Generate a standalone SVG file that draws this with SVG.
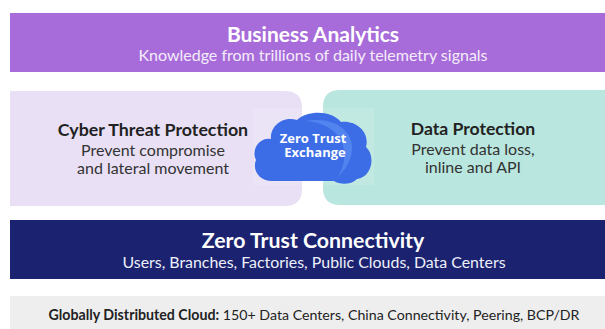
<svg xmlns="http://www.w3.org/2000/svg" width="605" height="329" viewBox="0 0 605 329">
<style>
text{font-family:Lato,"Open Sans","Liberation Sans",sans-serif;text-anchor:middle}
.t{font-weight:700}
.w{fill:#ffffff}
.d{fill:#222222}
.s{fill:#333333}
.c{font-family:"Open Sans",Lato,sans-serif;font-weight:700;font-size:13px;fill:#ffffff}
</style>
<rect width="605" height="329" fill="#ffffff"/>
<g id="business-analytics">
<rect x="10" y="13" width="600" height="59" fill="#a86cda"/>
<text class="t w" x="313" y="42" font-size="21">Business Analytics</text>
<text x="313" y="61" font-size="16" fill="#f4ecfb">Knowledge from trillions of daily telemetry signals</text>
</g>
<g id="cyber-threat-protection">
<path d="M10 91 H285 Q302 91 302 108 V189 Q302 206 285 206 H10 Z" fill="#e9e0f5"/>
<text class="t d" x="153" y="136" font-size="17.8">Cyber Threat Protection</text>
<text class="s" x="153" y="156" font-size="16">Prevent compromise</text>
<text class="s" x="153" y="174" font-size="16">and lateral movement</text>
</g>
<g id="data-protection">
<path d="M340 90 H610 V205 H340 Q323 205 323 188 V107 Q323 90 340 90 Z" fill="#b9e6de"/>
<text class="t d" x="473" y="135" font-size="17.6">Data Protection</text>
<text class="s" x="473" y="155" font-size="16">Prevent data loss,</text>
<text class="s" x="473" y="173" font-size="16">inline and API</text>
</g>
<g id="zero-trust-exchange">
<rect x="253" y="108" width="121" height="77" fill="#ffffff" opacity="0.12"/>
<path d="M272 181 C259 181 252 170 256 160 C251 150 259 137 271 139 C270 125 284 116 297 120 C308 110 331 110 341 122 C357 120 370 133 366 147 C376 156 372 177 357 179 C351 185 340 185 334 181 Z" fill="#3c6de6"/>
<path d="M306 121 C331 116 354 129 352 150 C351 162 344 171 337 178 C345 167 347 152 341 140 C335 129 321 122 306 121 Z" fill="#5a8ff2" opacity="0.7"/>
<text class="c"><tspan x="313" y="143">Zero Trust</tspan><tspan x="315" y="157">Exchange</tspan></text>
</g>
<g id="zero-trust-connectivity">
<rect x="10" y="220" width="600" height="59" fill="#1b2370"/>
<text class="t w" x="313" y="248" font-size="21.3">Zero Trust Connectivity</text>
<text x="314" y="268" font-size="15.9" fill="#eef0fa">Users, Branches, Factories, Public Clouds, Data Centers</text>
</g>
<g id="global-cloud">
<rect x="10" y="296" width="600" height="40" fill="#eeeeee"/>
<text x="314" y="320" font-size="14.2" fill="#222222"><tspan font-weight="700">Globally Distributed Cloud:</tspan> 150+ Data Centers, China Connectivity, Peering, BCP/DR</text>
</g>
<g id="connectors"/>
</svg>
